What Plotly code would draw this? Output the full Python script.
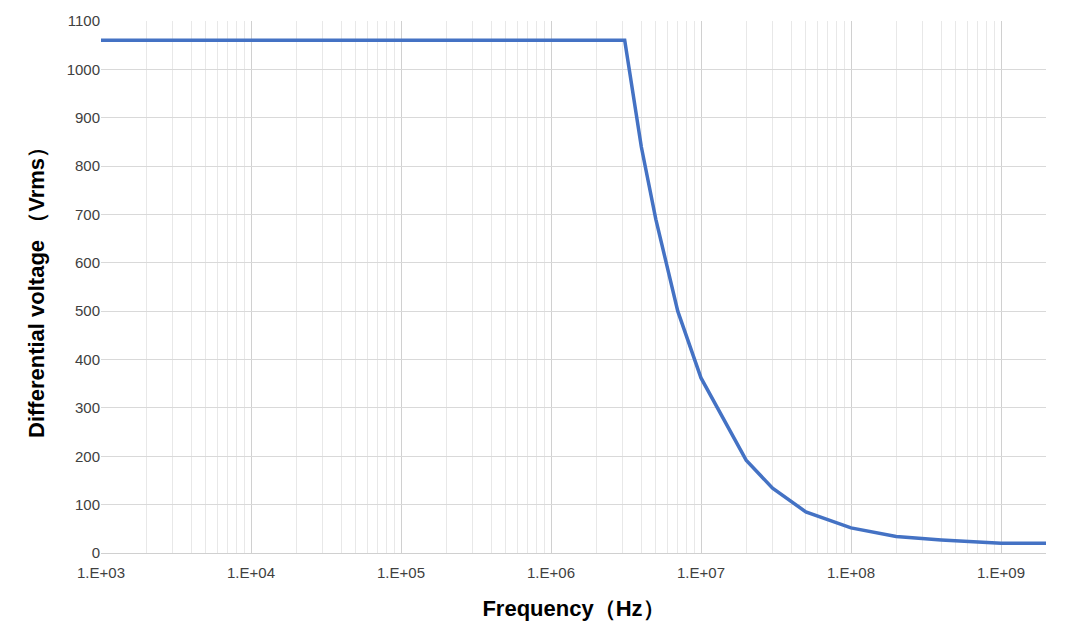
import plotly.graph_objects as go

freq = [1e3, 1e4, 1e5, 1e6, 3.1e6, 4e6, 5e6, 7e6, 1e7, 2e7, 3e7, 5e7, 1e8, 2e8, 3e8, 4e8, 1e9, 2e9]
volt = [1060, 1060, 1060, 1060, 1060, 840, 690, 500, 362, 192, 134, 85, 52, 34, 29, 27, 20, 20]
tickvals = [1e3, 1e4, 1e5, 1e6, 1e7, 1e8, 1e9]
ticktext = ["1.E+03", "1.E+04", "1.E+05", "1.E+06", "1.E+07", "1.E+08", "1.E+09"]

fig = go.Figure(go.Scatter(x=freq, y=volt, mode="lines", line=dict(color="#4472C4", width=3.5)))
fig.update_layout(
    width=1065, height=634, paper_bgcolor="white", plot_bgcolor="white",
    margin=dict(l=93, r=27, t=13, b=89), showlegend=False,
    font=dict(family="Liberation Sans, Arial", color="#404040", size=15),
)
fig.update_xaxes(type="log", range=[3, 9.3], tickvals=tickvals, ticktext=ticktext,
                 showgrid=True, gridcolor="#d0d0d0", linecolor="#d0d0d0", showline=True,
                 minor=dict(dtick="D1", showgrid=True, gridcolor="#e8e8e8"),
                 automargin=False, ticklabelstandoff=6,
                 title=dict(text="<b>Frequency（Hz）</b>", font=dict(size=22, color="black"), standoff=20),
                 tickfont=dict(size=15))
fig.update_yaxes(range=[0, 1100], dtick=100, showgrid=True, gridcolor="#d9d9d9",
                 zeroline=False, showline=False, automargin=False,
                 title=dict(text="<b>Differential voltage （Vrms）</b>", font=dict(size=22, color="black"), standoff=15),
                 tickfont=dict(size=15))
fig.write_html("out.html")
